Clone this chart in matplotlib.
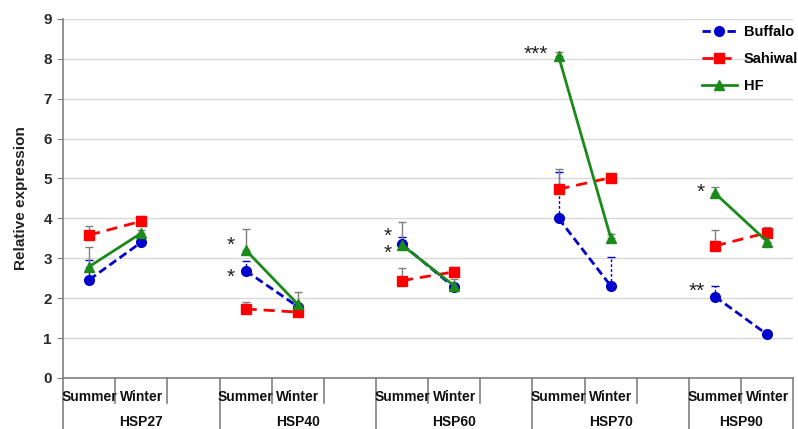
import numpy as np
import matplotlib.pyplot as plt
from matplotlib.transforms import blended_transform_factory

plt.rcParams['font.family'] = ['Liberation Sans', 'DejaVu Sans']

genes = ['HSP27', 'HSP40', 'HSP60', 'HSP70', 'HSP90']
seasons = ['Summer', 'Winter']

# relative expression, [summer, winter] per gene
buffalo = [[2.46, 3.40], [2.69, 1.79], [3.35, 2.27], [4.00, 2.31], [2.04, 1.09]]
sahiwal = [[3.58, 3.93], [1.73, 1.65], [2.44, 2.66], [4.73, 5.02], [3.31, 3.64]]
hf = [[2.79, 3.63], [3.21, 1.85], [3.33, 2.31], [8.07, 3.52], [4.63, 3.42]]

# upper error (SE)
buffalo_err = [[0.50, 0.0], [0.23, 0.0], [0.18, 0.0], [1.16, 0.72], [0.27, 0.0]]
sahiwal_err = [[0.23, 0.13], [0.17, 0.0], [0.31, 0.13], [0.50, 0.0], [0.41, 0.15]]
hf_err = [[0.50, 0.08], [0.52, 0.30], [0.59, 0.16], [0.09, 0.08], [0.15, 0.0]]

# significance of summer vs winter
buffalo_sig = ['', '*', '*', '', '**']
hf_sig = ['', '*', '*', '***', '*']

series = [
    ('Buffalo', buffalo, buffalo_err, '#0000CC', 'o', (0, (3, 1.5)), '#0000CC', '--'),
    ('Sahiwal', sahiwal, sahiwal_err, '#FF0000', 's', (0, (4, 2.5)), '#7F7F7F', '-'),
    ('HF', hf, hf_err, '#1A8A1A', '^', '-', '#7F7F7F', '-'),
]

fig = plt.figure(figsize=(7.98, 4.29), dpi=100)
ax = fig.add_axes([0.079, 0.119, 0.915, 0.837])

slots_per_group = 3
for name, vals, errs, color, marker, ls, ecol, els in series:
    for g in range(len(genes)):
        x = [g * slots_per_group + s for s in range(len(seasons))]
        y = vals[g]
        e = errs[g]
        eb = ax.errorbar(x, y, yerr=[[0, 0], e], fmt='none', ecolor=ecol,
                         elinewidth=1, capsize=3, capthick=1, zorder=2)
        if els == '--':
            eb[2][0].set_linestyle((0, (2, 1.5)))
        ax.plot(x, y, color=color, linestyle=ls, linewidth=2, marker=marker,
                markersize=7 if marker != '^' else 7.5, zorder=3,
                label=name if g == 0 else None)

# significance stars left of the summer points (vertical nudge per star)
hf_star_dy = [0, 0.12, 0.23, 0.05, 0.01]
buffalo_star_dy = [0, -0.18, -0.22, 0, 0.14]
for sig_list, vals, dys in [(hf_sig, hf, hf_star_dy),
                            (buffalo_sig, buffalo, buffalo_star_dy)]:
    for g, sig in enumerate(sig_list):
        if sig:
            ax.text(g * slots_per_group - 0.2, vals[g][0] + dys[g], sig,
                    ha='right', va='center', fontsize=15, color='#222222')

ax.set_xlim(-0.5, 13.5)
ax.set_ylim(0, 9)
ax.set_yticks(range(10))
ax.set_yticklabels([str(i) for i in range(10)], fontsize=11, fontweight='bold',
                   color='#2a2a2a')
ax.yaxis.grid(True, color='#D9D9D9', linewidth=1)
ax.set_axisbelow(True)
ax.tick_params(axis='y', length=4, color='#808080', pad=4)
ax.tick_params(axis='x', length=0)
ax.set_xticks([])
for side in ['top', 'right']:
    ax.spines[side].set_visible(False)
for side in ['left', 'bottom']:
    ax.spines[side].set_color('#808080')
    ax.spines[side].set_linewidth(1.2)
ax.set_ylabel('Relative expression', fontsize=11, fontweight='bold',
              color='#222222', labelpad=11)

# two-row category table under the axis
trans = blended_transform_factory(ax.transData, ax.transAxes)
row1 = -0.07
row2 = -0.15
n_slots = 14
for b in range(n_slots + 1):
    xb = b - 0.5
    full = (b % slots_per_group == 0) or b == n_slots
    ax.plot([xb, xb], [0, row2 if full else row1], transform=trans,
            color='#808080', linewidth=1.2, clip_on=False)
for g, gene in enumerate(genes):
    start = g * slots_per_group
    for s, season in enumerate(seasons):
        ax.text(start + s, -0.052, season, transform=trans, ha='center',
                va='center', fontsize=10, fontweight='bold', color='#111111')
    end = min(start + slots_per_group, n_slots)
    ax.text((start + end - 1) / 2, -0.123, gene, transform=trans, ha='center',
            va='center', fontsize=10, fontweight='bold', color='#111111')

leg = ax.legend(loc='upper right', bbox_to_anchor=(1.025, 1.02), frameon=False,
                handlelength=2.4, handletextpad=0.5, labelspacing=0.9,
                prop={'weight': 'bold', 'size': 10.5})

fig.savefig('out.png', dpi=100)
